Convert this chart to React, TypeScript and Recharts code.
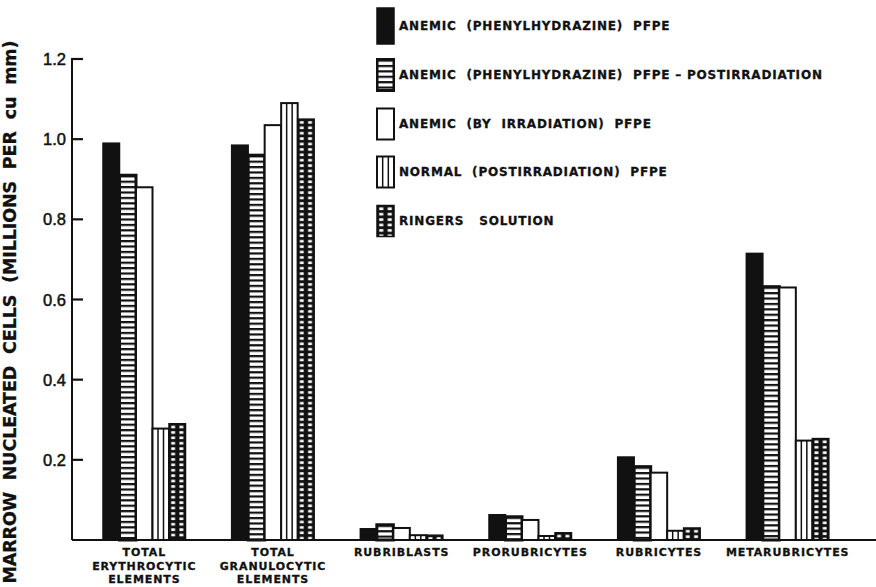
import { BarChart, Bar, XAxis, YAxis, Legend } from "recharts";

// categories along the x axis (line breaks as printed)
const categories = [
  "TOTAL\nERYTHROCYTIC\nELEMENTS",
  "TOTAL\nGRANULOCYTIC\nELEMENTS",
  "RUBRIBLASTS",
  "PRORUBRICYTES",
  "RUBRICYTES",
  "METARUBRICYTES",
];

// millions per cu mm
const anemicPhz = [0.99, 0.985, 0.028, 0.063, 0.207, 0.715];
const anemicPhzPost = [0.91, 0.96, 0.038, 0.058, 0.183, 0.632];
const anemicIrr = [0.88, 1.035, 0.03, 0.05, 0.168, 0.63];
const normalPost = [0.278, 1.09, 0.012, 0.01, 0.023, 0.248];
const ringers = [0.29, 1.05, 0.012, 0.018, 0.03, 0.253];

const seriesNames = [
  "ANEMIC  (PHENYLHYDRAZINE)  PFPE",
  "ANEMIC  (PHENYLHYDRAZINE)  PFPE – POSTIRRADIATION",
  "ANEMIC  (BY  IRRADIATION)  PFPE",
  "NORMAL  (POSTIRRADIATION)  PFPE",
  "RINGERS   SOLUTION",
];

const yTicks = [0.2, 0.4, 0.6, 0.8, 1.0, 1.2];

const INK = "#111";
const AXIS_W = 72; // y axis width = left edge of the plot

const data = categories.map((name, i) => ({
  name,
  s0: anemicPhz[i],
  s1: anemicPhzPost[i],
  s2: anemicIrr[i],
  s3: normalPost[i],
  s4: ringers[i],
}));

type Kind = "solid" | "hstripe" | "plain" | "vstripe" | "check";
const kinds: Record<string, Kind> = {
  s0: "solid",
  s1: "hstripe",
  s2: "plain",
  s3: "vstripe",
  s4: "check",
};

function Hatched({ kind, x, y, width, height, uid }: any) {
  if (!height || height <= 0) return null;
  if (kind === "solid") {
    return <rect x={x} y={y} width={width} height={height} fill={INK} stroke={INK} strokeWidth={1.5} />;
  }
  if (kind === "plain") {
    return <rect x={x} y={y} width={width} height={height} fill="#fff" stroke={INK} strokeWidth={2} />;
  }
  if (kind === "vstripe") {
    return (
      <g>
        <rect x={x} y={y} width={width} height={height} fill="#fff" stroke={INK} strokeWidth={2} />
        <line x1={x + width / 3} x2={x + width / 3} y1={y} y2={y + height} stroke={INK} strokeWidth={1.5} />
        <line x1={x + (2 * width) / 3} x2={x + (2 * width) / 3} y1={y} y2={y + height} stroke={INK} strokeWidth={1.5} />
      </g>
    );
  }
  if (kind === "hstripe") {
    const p = 5.4;
    return (
      <g>
        <defs>
          <pattern id={uid} patternUnits="userSpaceOnUse" x={x} y={y} width={width} height={p}>
            <rect width={width} height={p} fill={INK} />
            <rect x={0} y={2.2} width={width} height={3.2} fill="#fff" />
          </pattern>
        </defs>
        <rect x={x} y={y} width={width} height={height} fill={`url(#${uid})`} stroke={INK} strokeWidth={3} />
      </g>
    );
  }
  // check
  const tw = width / 2;
  const th = 5.4;
  return (
    <g>
      <defs>
        <pattern id={uid} patternUnits="userSpaceOnUse" x={x} y={y} width={tw} height={th}>
          <rect width={tw} height={th} fill={INK} />
          <rect x={2.2} y={2} width={tw - 4.4} height={2.6} fill="#fff" />
        </pattern>
      </defs>
      <rect x={x} y={y} width={width} height={height} fill={`url(#${uid})`} stroke={INK} strokeWidth={1.5} />
    </g>
  );
}

// inward y ticks, placed with the value scale recovered from the first bar
function InwardTicks({ base, perUnit }: { base: number; perUnit: number }) {
  return (
    <g>
      {yTicks.map((v) => {
        const ty = base - v * perUnit;
        return <path key={v} d={`M${AXIS_W - 1},${ty - 1.1}h12v2.2h-12z`} fill={INK} />;
      })}
    </g>
  );
}

const barShape = (key: string) => (props: any) => {
  const name = props.payload ? props.payload.name : props.name;
  const bar = (
    <Hatched
      kind={kinds[key]}
      x={props.x}
      y={props.y}
      width={props.width}
      height={props.height}
      uid={`${key}-${categories.indexOf(name)}`}
    />
  );
  const val = props.payload ? Number(props.payload[key]) : 0;
  if (key !== "s0" || name !== categories[0] || !val) return bar;
  const base = Number(props.y) + Number(props.height);
  return (
    <g>
      {bar}
      <InwardTicks base={base} perUnit={Number(props.height) / val} />
    </g>
  );
};

const XTick = ({ x, y, payload }: any) => {
  const lines = String(payload.value).split("\n");
  return (
    <text
      x={x}
      y={Number(y) + 16}
      textAnchor="middle"
      fill={INK}
      stroke={INK}
      strokeWidth={0.3}
      style={{ fontFamily: "DejaVu Sans", fontWeight: 700, fontSize: 11, letterSpacing: 0.9 }}
    >
      {lines.map((l, i) => (
        <tspan key={i} x={x} dy={i === 0 ? 0 : 13.5}>
          {l}
        </tspan>
      ))}
    </text>
  );
};

const YTick = ({ x, y, payload }: any) => (
  <text
    x={x}
    y={y}
    textAnchor="end"
    dominantBaseline="central"
    fill={INK}
    stroke={INK}
    strokeWidth={0.5}
    style={{ fontFamily: "Liberation Sans", fontSize: 16.5 }}
  >
    {Number(payload.value).toFixed(1)}
  </text>
);

const YTitle = () => (
  <text
    x={16}
    y={312}
    transform="rotate(-90 16 312)"
    textAnchor="middle"
    textLength={543}
    lengthAdjust="spacing"
    fill={INK}
    stroke={INK}
    strokeWidth={0.3}
    style={{ fontFamily: "DejaVu Sans", fontWeight: 700, fontSize: 17.5, whiteSpace: "pre" }}
  >
    MARROW  NUCLEATED  CELLS  (MILLIONS  PER  cu  mm)
  </text>
);

const LegendBox = ({ payload }: any) => (
  <div
    style={{
      fontFamily: "DejaVu Sans",
      fontWeight: 700,
      fontSize: 12,
      letterSpacing: 0.8,
      color: INK,
      WebkitTextStroke: "0.3px #111",
    }}
  >
    {(payload || []).map((entry: any) => {
      const k = kinds[entry.dataKey];
      const h = k === "solid" ? 36 : 31;
      return (
        <div key={entry.dataKey} style={{ display: "flex", alignItems: "center", height: 48.7 }}>
          <svg width={19} height={38} style={{ display: "block" }}>
            <Hatched kind={k} x={1} y={(38 - h) / 2} width={17} height={h} uid={`lg-${entry.dataKey}`} />
          </svg>
          <span style={{ whiteSpace: "pre", marginLeft: 4 }}>{entry.value}</span>
        </div>
      );
    })}
  </div>
);

export default function App() {
  return (
    <div style={{ width: 876, height: 587, background: "#fff" }}>
      <style>{"body{margin:0;background:#fff}"}</style>
      <BarChart
        width={876}
        height={587}
        data={data}
        margin={{ top: 59, right: 0, bottom: 0, left: 0 }}
        barSize={16.5}
        barGap={0}
      >
        <XAxis
          dataKey="name"
          height={47}
          interval={0}
          padding={{ left: 8, right: 24 }}
          axisLine={{ stroke: INK, strokeWidth: 2 }}
          tickLine={false}
          tickSize={0}
          tickMargin={0}
          tick={<XTick />}
        />
        <YAxis
          width={AXIS_W}
          domain={[0, 1.2]}
          ticks={yTicks}
          axisLine={{ stroke: INK, strokeWidth: 2 }}
          tickLine={false}
          tickSize={6}
          tickMargin={0}
          tick={<YTick />}
          label={<YTitle />}
        />
        <Legend
          layout="vertical"
          align="center"
          verticalAlign="middle"
          itemSorter="dataKey"
          wrapperStyle={{ position: "absolute", top: 2, left: 376, width: 480 }}
          content={<LegendBox />}
        />
        {["s0", "s1", "s2", "s3", "s4"].map((k, i) => (
          <Bar key={k} dataKey={k} name={seriesNames[i]} fill={INK} shape={barShape(k)} isAnimationActive={false} />
        ))}
      </BarChart>
    </div>
  );
}
